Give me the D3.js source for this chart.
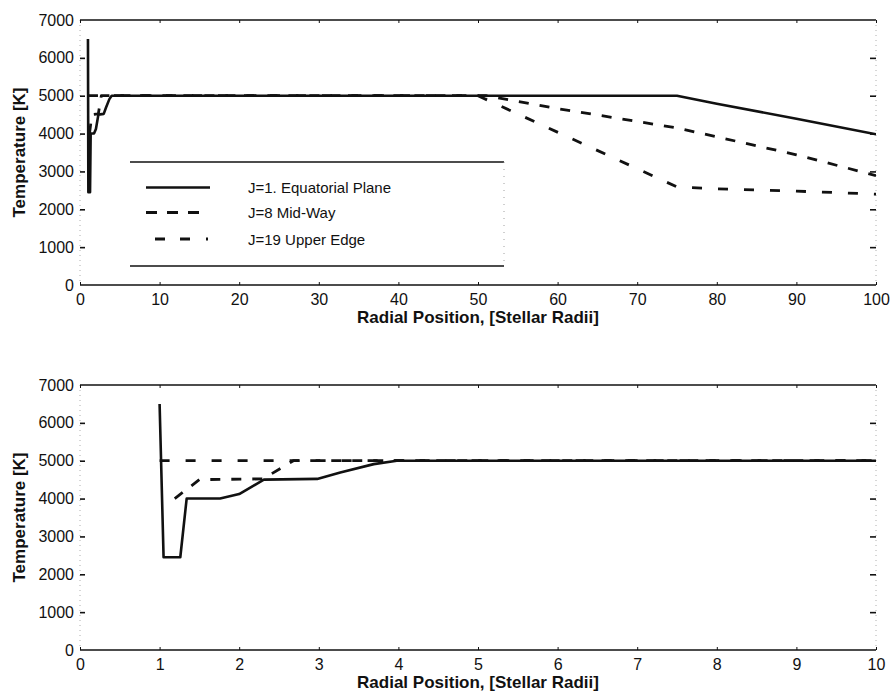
<!DOCTYPE html>
<html>
<head>
<meta charset="utf-8">
<script src="https://cdn.jsdelivr.net/npm/d3@7"></script>
<style>
  html, body { margin: 0; padding: 0; background: #fff; }
  svg { display: block; }
  text { font-family: "Liberation Sans", Arial, Helvetica, sans-serif; fill: #111; }
</style>
</head>
<body>
<svg id="chart" width="891" height="698"></svg>
<script>
// Temperature profiles along radial lines at three heights in the disk.
const eqR   = [1.0, 1.05, 1.26, 1.34, 1.76, 2.0, 2.31, 2.98, 3.27, 3.69, 3.98, 75, 80, 90, 100];
const eqT   = [6500, 2450, 2450, 4000, 4000, 4120, 4500, 4520, 4690, 4910, 5000, 5000, 4790, 4390, 3980];

const midR  = [1.19, 1.5, 2.3, 2.68, 51, 60, 75, 90, 100];
const midT  = [4000, 4500, 4520, 5000, 5000, 4660, 4150, 3440, 2890];

const upR   = [1.0, 50, 75, 80, 90, 100];
const upT   = [5000, 5000, 2590, 2540, 2480, 2400];

const seriesNames = ["J=1. Equatorial Plane", "J=8 Mid-Way", "J=19 Upper Edge"];
const yTicks = [0, 1000, 2000, 3000, 4000, 5000, 6000, 7000];
const xTicksWide = [0, 10, 20, 30, 40, 50, 60, 70, 80, 90, 100];
const xTicksNear = [0, 1, 2, 3, 4, 5, 6, 7, 8, 9, 10];
const xTitle = "Radial Position, [Stellar Radii]";
const yTitle = "Temperature [K]";

const series = [
  { r: eqR,  t: eqT,  width: 2.6, dash: null },
  { r: midR, t: midT, width: 2.8, dash: "10,11" },
  { r: upR,  t: upT,  width: 2.8, dash: "10,16" }
];

const svg = d3.select("#chart");
const ink = "#111";

function panel(id, top, bottom, xMax, xTicks, withLegend) {
  const x = d3.scaleLinear().domain([0, xMax]).range([80, 876]);
  const y = d3.scaleLinear().domain([0, 7000]).range([bottom, top]);
  const g = svg.append("g");

  g.append("clipPath").attr("id", id)
    .append("rect").attr("x", 80).attr("y", top - 5).attr("width", 796).attr("height", bottom - top + 10);

  // frame: solid top and bottom, faint dotted sides
  g.append("line").attr("x1", 80).attr("x2", 876).attr("y1", top).attr("y2", top)
    .attr("stroke", ink).attr("stroke-width", 1.6);
  g.append("line").attr("x1", 80).attr("x2", 876).attr("y1", bottom).attr("y2", bottom)
    .attr("stroke", ink).attr("stroke-width", 1.6);
  [80, 876].forEach(px => {
    g.append("line").attr("x1", px).attr("x2", px).attr("y1", top).attr("y2", bottom)
      .attr("stroke", "#999").attr("stroke-width", 0.8).attr("stroke-dasharray", "1,4");
  });

  // left axis (labels + inward ticks)
  const yl = g.append("g").attr("transform", "translate(80,0)")
    .call(d3.axisLeft(y).tickValues(yTicks).tickSize(0).tickPadding(6).tickFormat(d3.format("d")));
  yl.select(".domain").remove();
  yl.selectAll("text").attr("font-size", 16).attr("fill", "#222")
    .style("font-family", "'Liberation Sans', Arial, sans-serif");
  g.append("g").attr("transform", "translate(80,0)")
    .call(d3.axisRight(y).tickValues(yTicks.slice(1, -1)).tickSize(5).tickFormat(""))
    .call(s => { s.select(".domain").remove(); s.selectAll("line").attr("stroke", ink).attr("stroke-width", 1.6); });
  // right axis inward ticks
  g.append("g").attr("transform", "translate(876,0)")
    .call(d3.axisLeft(y).tickValues(yTicks.slice(1, -1)).tickSize(6).tickFormat(""))
    .call(s => { s.select(".domain").remove(); s.selectAll("line").attr("stroke", ink).attr("stroke-width", 1.6); });

  // bottom axis labels + inward ticks
  const xb = g.append("g").attr("transform", `translate(0,${bottom})`)
    .call(d3.axisTop(x).tickValues(xTicks).tickSize(3).tickFormat(""));
  xb.select(".domain").remove();
  xb.selectAll("line").attr("stroke", ink).attr("stroke-width", 1);
  const xl = g.append("g").attr("transform", `translate(0,${bottom})`)
    .call(d3.axisBottom(x).tickValues(xTicks).tickSize(0).tickPadding(9).tickFormat(d3.format("d")));
  xl.select(".domain").remove();
  xl.selectAll("text").attr("font-size", 16).attr("fill", "#222")
    .style("font-family", "'Liberation Sans', Arial, sans-serif");
  g.append("g").attr("transform", `translate(0,${top})`)
    .call(d3.axisBottom(x).tickValues(xTicks).tickSize(3).tickFormat(""))
    .call(s => { s.select(".domain").remove(); s.selectAll("line").attr("stroke", ink).attr("stroke-width", 1); });

  // titles
  g.append("text").attr("x", 478).attr("y", bottom + 38).attr("text-anchor", "middle")
    .attr("font-size", 17).attr("font-weight", "bold").text(xTitle);
  g.append("text").attr("transform", `translate(25,${(top + bottom) / 2}) rotate(-90)`)
    .attr("text-anchor", "middle").attr("font-size", 17).attr("font-weight", "bold").text(yTitle);

  // curves
  const line = d3.line().x(d => x(d[0])).y(d => y(d[1]));
  const plot = g.append("g").attr("clip-path", `url(#${id})`);
  series.forEach(s => {
    plot.append("path")
      .datum(s.r.map((r, i) => [r, s.t[i]]))
      .attr("d", line)
      .attr("fill", "none")
      .attr("stroke", ink)
      .attr("stroke-width", s.width)
      .attr("stroke-linejoin", "round")
      .attr("stroke-dasharray", s.dash);
  });

  if (withLegend) {
    const lg = g.append("g");
    lg.append("rect").attr("x", 130).attr("y", 162).attr("width", 374).attr("height", 104).attr("fill", "#fff");
    lg.append("line").attr("x1", 130).attr("x2", 504).attr("y1", 162).attr("y2", 162).attr("stroke", ink).attr("stroke-width", 1.5);
    lg.append("line").attr("x1", 130).attr("x2", 504).attr("y1", 266).attr("y2", 266).attr("stroke", ink).attr("stroke-width", 1.5);
    lg.append("line").attr("x1", 504).attr("x2", 504).attr("y1", 162).attr("y2", 266)
      .attr("stroke", "#888").attr("stroke-width", 0.8).attr("stroke-dasharray", "1,6");
    const rows = [
      { y: 187.5, x1: 146, x2: 210, dash: null, w: 2.4 },
      { y: 212.5, x1: 146, x2: 199, dash: "11,10", w: 2.8 },
      { y: 239, x1: 155, x2: 209, dash: "10,15,10,16,2,40", w: 2.8 }
    ];
    rows.forEach((rw, i) => {
      lg.append("line").attr("x1", rw.x1).attr("x2", rw.x2).attr("y1", rw.y).attr("y2", rw.y)
        .attr("stroke", ink).attr("stroke-width", rw.w).attr("stroke-dasharray", rw.dash);
      lg.append("text").attr("x", 248).attr("y", rw.y + 5.5).attr("font-size", 15).text(seriesNames[i]);
    });
  }
}

panel("clipWide", 20, 285, 100, xTicksWide, true);
panel("clipNear", 385, 650, 10, xTicksNear, false);
</script>
</body>
</html>
